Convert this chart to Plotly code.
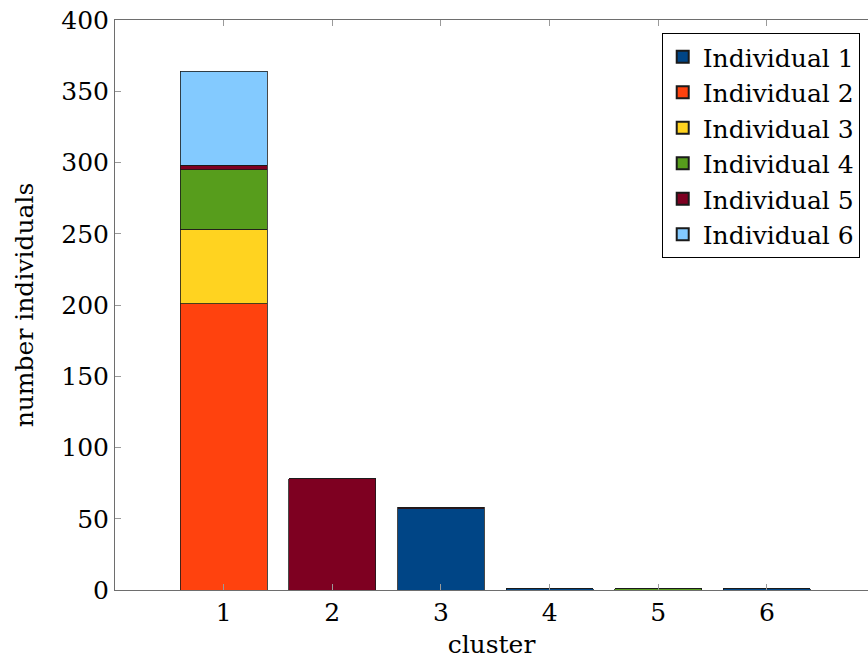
import plotly.graph_objects as go

clusters = [1, 2, 3, 4, 5, 6]
names = ["Individual 1", "Individual 2", "Individual 3", "Individual 4", "Individual 5", "Individual 6"]
ind1 = [0, 0, 57, 1, 0, 1]
ind2 = [201, 0, 0, 0, 0, 0]
ind3 = [52, 0, 0, 0, 0, 0]
ind4 = [42, 0, 0, 0, 1, 0]
ind5 = [3, 78, 1, 0, 0, 0]
ind6 = [66, 0, 0, 0, 0, 0]
series = [ind1, ind2, ind3, ind4, ind5, ind6]
colors = ["#004586", "#ff420e", "#ffd320", "#579d1c", "#7e0021", "#83caff"]
yticks = [0, 50, 100, 150, 200, 250, 300, 350, 400]

FONT = "DejaVu Serif, serif"
FS = 25

fig = go.Figure()
for name, vals, col in zip(names, series, colors):
    fig.add_trace(go.Bar(
        x=clusters, y=vals, name=name, width=0.8,
        marker=dict(color=col, line=dict(color="#1a1a1a", width=0.8)),
    ))

fig.update_layout(
    width=868, height=664,
    margin=dict(l=115, r=0, t=20, b=74),
    barmode="stack",
    plot_bgcolor="white", paper_bgcolor="white",
    font=dict(family=FONT, size=FS, color="black"),
    showlegend=True,
    legend=dict(
        x=0.989, y=0.977, xanchor="right", yanchor="top",
        traceorder="normal",
        bordercolor="black", borderwidth=1, bgcolor="white",
        font=dict(family=FONT, size=FS, color="black"),
        tracegroupgap=0, itemsizing="constant",
    ),
)
fig.update_xaxes(
    range=[0, 6.93], tickvals=clusters, ticktext=[str(c) for c in clusters],
    showline=True, linecolor="#6e6e6e", linewidth=1, mirror="ticks",
    ticks="inside", ticklen=6, tickcolor="#9a9a9a",
    showgrid=False, zeroline=False,
    title=dict(text="cluster", font=dict(family=FONT, size=FS), standoff=9),
    tickfont=dict(family=FONT, size=FS),
)
fig.update_yaxes(
    range=[0, 400], tickvals=yticks,
    showline=True, linecolor="#6e6e6e", linewidth=1, mirror=False,
    ticks="inside", ticklen=6, tickcolor="#9a9a9a",
    showgrid=False, zeroline=False,
    title=dict(text="number individuals", font=dict(family=FONT, size=FS), standoff=20),
    tickfont=dict(family=FONT, size=FS),
)

fig.write_html("out.html")
